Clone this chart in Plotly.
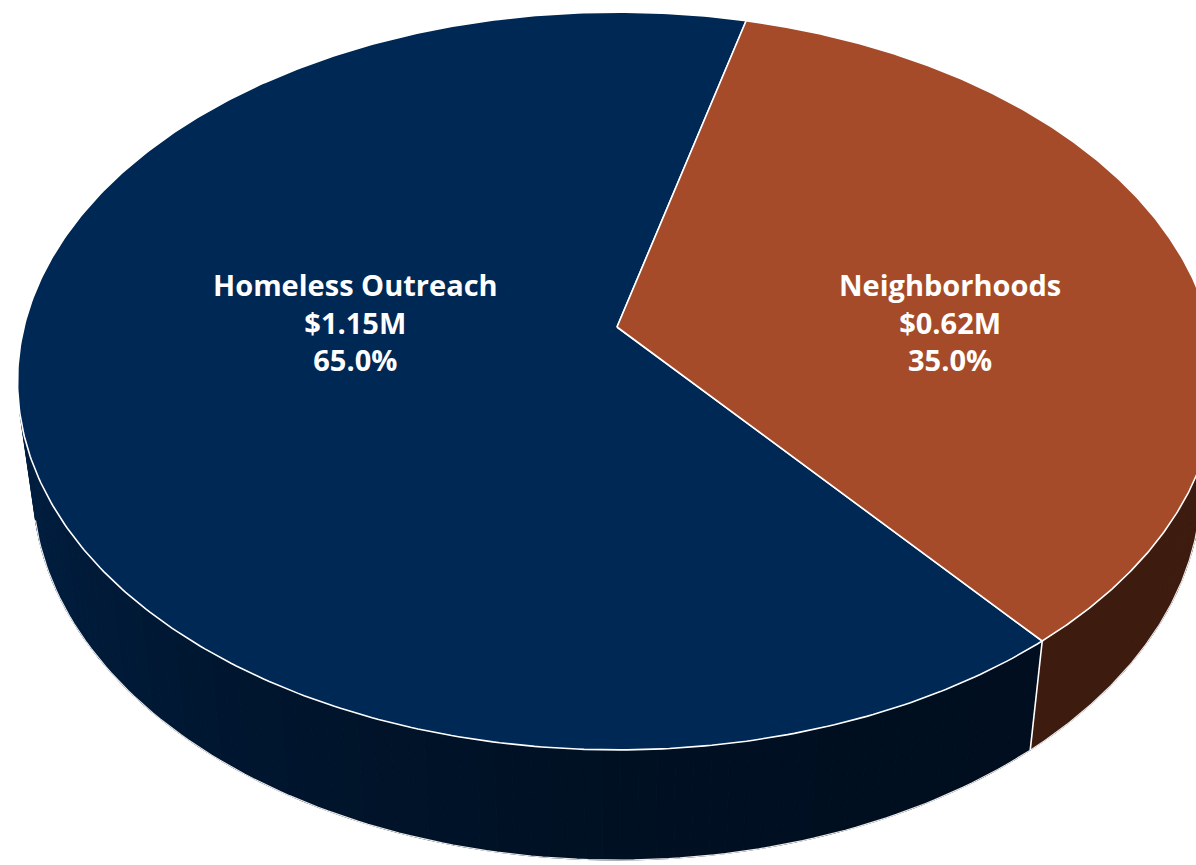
import numpy as np
import plotly.graph_objects as go

# ---------------- data ----------------
categories = ["Homeless Outreach", "Neighborhoods"]
values_musd = [1.15, 0.62]
slice_colors = ["#002855", "#A64B2A"]

# ---------------- view / style ----------------
W, H = 1196, 865
CX, CY = 617.0, 327.0        # projected pie centre (px)
FOCAL = 3214.0
CAM_DIST = 5.42
ELEV = np.deg2rad(37.5)
THICK = 0.229                # pie height relative to radius
FIRST_ANGLE = 140.5          # deg, clockwise from 12 o'clock
LABEL_POS = [(355, 322), (950, 322)]

ce, se = np.cos(ELEV), np.sin(ELEV)


def proj(phi_deg, r=1.0, z=0.0):
    phi = np.deg2rad(np.asarray(phi_deg, dtype=float))
    u = r * np.sin(phi)
    v = r * np.cos(phi)
    d = CAM_DIST + v * ce - z * se
    x = CX + FOCAL * u / d
    y = CY - FOCAL * (v * se + z * ce) / d
    return x, y


def hex_rgb(h):
    h = h.lstrip("#")
    return tuple(int(h[i:i + 2], 16) for i in (0, 2, 4))


def shade(hexcol, u):
    f = 0.37 + 0.40 * ((1 - u) / 2.0) ** 3
    r, g, b = hex_rgb(hexcol)
    return f"rgb({int(r * f)},{int(g * f)},{int(b * f)})"


total = sum(values_musd)
shares = [v / total for v in values_musd]
bounds = [FIRST_ANGLE]
for s in shares:
    bounds.append(bounds[-1] + 360 * s)

# visible side range: cos(phi) < -1/(L cos e)
vlim = np.rad2deg(np.arccos(-1.0 / (CAM_DIST * ce)))
vis_lo, vis_hi = vlim, 360 - vlim

fig = go.Figure()

# ---- side walls ----
for i, col in enumerate(slice_colors):
    a0, a1 = bounds[i], bounds[i + 1]
    for k in (-360, 0, 360):
        lo = max(a0, vis_lo + k)
        hi = min(a1, vis_hi + k)
        if hi <= lo:
            continue
        n = max(2, int((hi - lo) / 1.5) + 1)
        edges = np.linspace(lo, hi, n)
        for j in range(len(edges) - 1):
            pa, pb = edges[j], edges[j + 1]
            arc = np.linspace(pa, pb, 4)
            xt, yt = proj(arc, 1.0, 0.0)
            xb, yb = proj(arc[::-1], 1.0, -THICK)
            xs = np.concatenate([xt, xb, xt[:1]])
            ys = np.concatenate([yt, yb, yt[:1]])
            c = shade(col, np.sin(np.deg2rad((pa + pb) / 2)))
            fig.add_trace(go.Scatter(x=xs, y=ys, mode="lines", fill="toself",
                                     fillcolor=c, line=dict(color=c, width=1),
                                     hoverinfo="skip", showlegend=False))
        # bottom edge highlight
        arc = np.linspace(lo, hi, 120)
        xb, yb = proj(arc, 1.0, -THICK)
        fig.add_trace(go.Scatter(x=xb, y=yb, mode="lines",
                                 line=dict(color="rgba(235,235,235,1)", width=1.2),
                                 hoverinfo="skip", showlegend=False))

# vertical edges at slice boundaries on the visible side
for b in bounds[:-1]:
    bb = b % 360
    if vis_lo <= bb <= vis_hi:
        xt, yt = proj([bb], 1.0, 0.0)
        xb, yb = proj([bb], 1.0, -THICK)
        fig.add_trace(go.Scatter(x=[xt[0], xb[0]], y=[yt[0], yb[0]], mode="lines",
                                 line=dict(color="white", width=1.6),
                                 hoverinfo="skip", showlegend=False))

# ---- top faces ----
for i, (name, col) in enumerate(zip(categories, slice_colors)):
    a0, a1 = bounds[i], bounds[i + 1]
    arc = np.linspace(a0, a1, 400)
    xa, ya = proj(arc, 1.0, 0.0)
    xs = np.concatenate([[CX], xa, [CX]])
    ys = np.concatenate([[CY], ya, [CY]])
    fig.add_trace(go.Scatter(x=xs, y=ys, mode="lines", fill="toself",
                             fillcolor=col, line=dict(color="white", width=1.6),
                             hoverinfo="skip", showlegend=False))

# ---- labels ----
for i, name in enumerate(categories):
    txt = f"{name}<br>${values_musd[i]:.2f}M<br>{shares[i] * 100:.1f}%"
    lx, ly = LABEL_POS[i]
    fig.add_annotation(x=lx, y=ly, text=txt, showarrow=False,
                       font=dict(family="Open Sans", size=29, color="white", weight="bold"),
                       align="center", xanchor="center", yanchor="middle")

fig.update_layout(
    width=W, height=H,
    margin=dict(l=0, r=0, t=0, b=0),
    paper_bgcolor="white", plot_bgcolor="white",
    xaxis=dict(range=[0, W], visible=False, fixedrange=True),
    yaxis=dict(range=[H, 0], visible=False, fixedrange=True),
    showlegend=False,
)

fig.write_html("out.html")
